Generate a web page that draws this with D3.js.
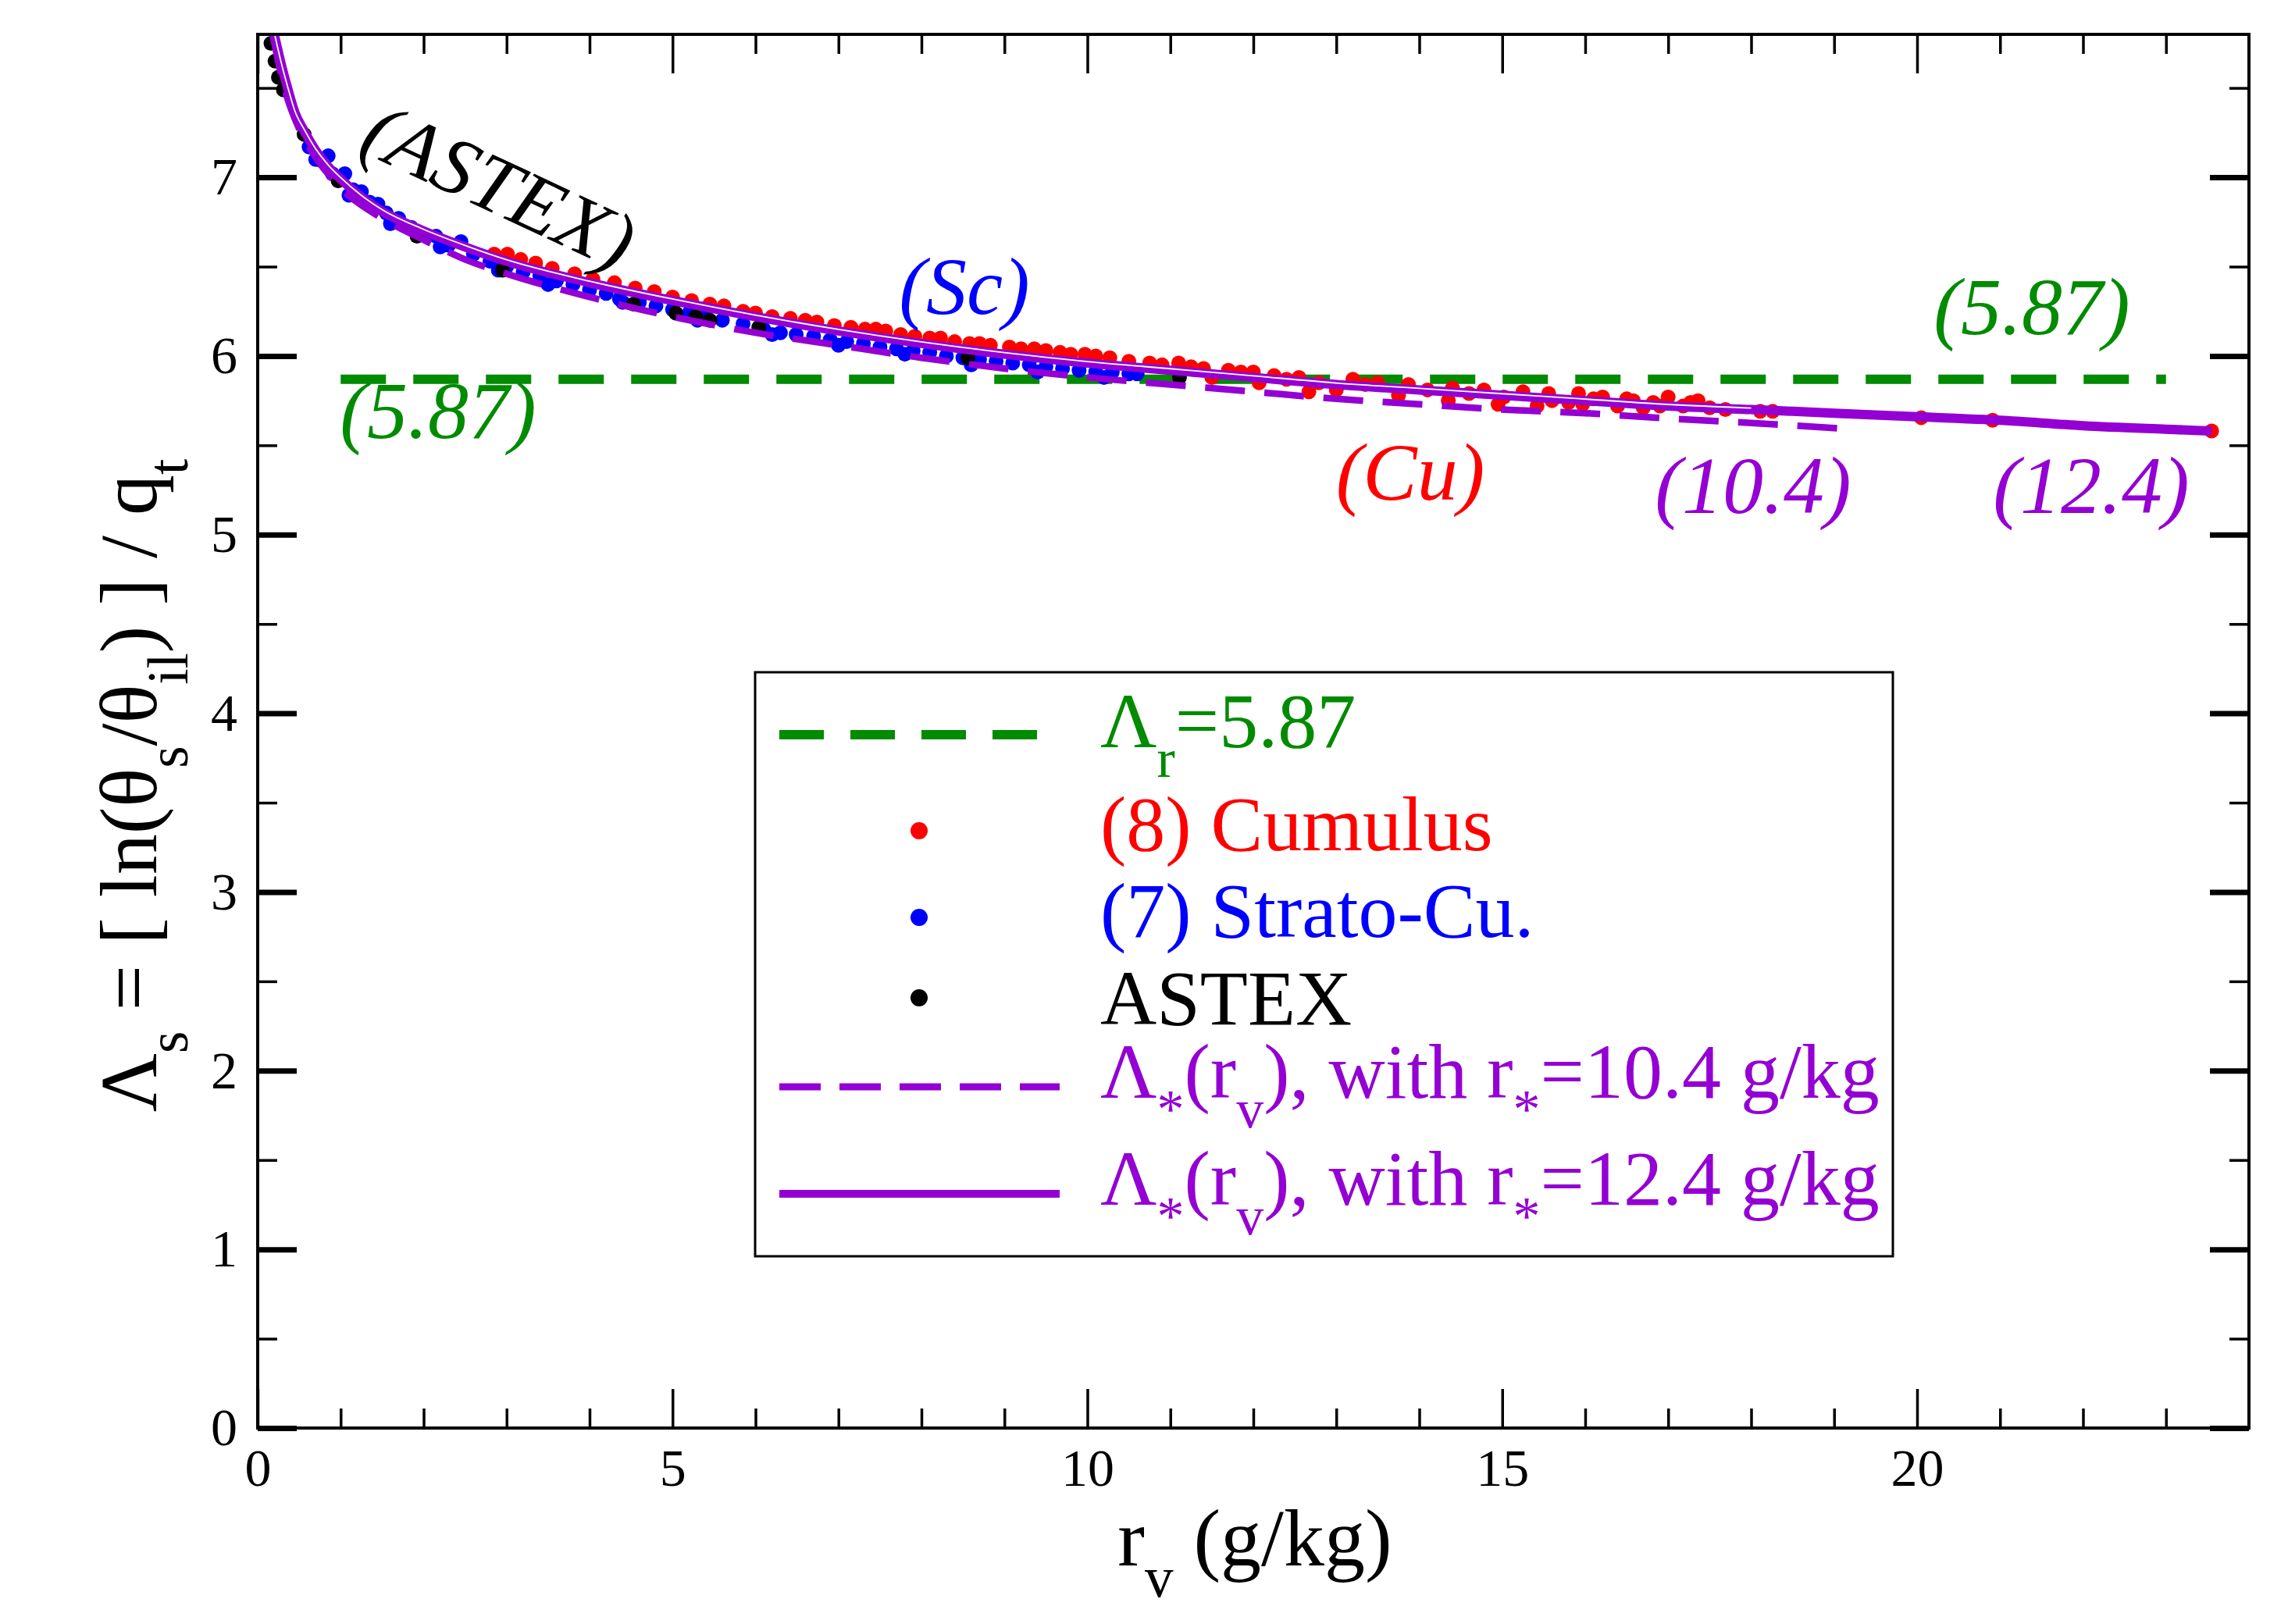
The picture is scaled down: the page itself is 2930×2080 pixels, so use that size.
<!DOCTYPE html>
<html lang="en">
<head>
  <meta charset="UTF-8">
  <title>Lambda_s versus r_v</title>
  <style>
    body { margin: 0; background: #fff; }
    svg { display: block; font-family: "Liberation Serif", "Times New Roman", serif; white-space: pre; }
    .tick text { font-size: 68px; fill: #000; font-family: "Liberation Serif", "Times New Roman", serif; }
  </style>
</head>
<body>
  <svg id="chart" width="2930" height="2080"></svg>

  <script src="https://d3js.org/d3.v7.min.js"></script>
  <script>
    // ---- values ----
    const xTicks = [0, 5, 10, 15, 20];
    const xMinorTicks = [1, 2, 3, 4, 6, 7, 8, 9, 11, 12, 13, 14, 16, 17, 18, 19, 21, 22, 23];
    const yTicks = [0, 1, 2, 3, 4, 5, 6, 7];
    const yMinorTicks = [0.5, 1.5, 2.5, 3.5, 4.5, 5.5, 6.5, 7.5];

    const lambdaR = 5.87;
    const lambdaRSpan = [1.0, 23.0];

    // Lambda_*(r_v) with r_* = 12.4 g/kg (solid)
    const lambdaStar124 = [
      [0.2, 7.80], [0.28, 7.64], [0.36, 7.50], [0.45, 7.36], [0.56, 7.26], [0.7, 7.15],
      [0.85, 7.06], [1.0, 6.99], [1.25, 6.89], [1.5, 6.81], [2.0, 6.70], [2.5, 6.61],
      [3.0, 6.53], [4.0, 6.41], [5.0, 6.31], [6.0, 6.22], [7.0, 6.14], [8.0, 6.07],
      [9.0, 6.01], [10.0, 5.96], [11.0, 5.92], [12.0, 5.88], [13.0, 5.84], [14.0, 5.81],
      [15.0, 5.78], [16.0, 5.75], [17.0, 5.72], [18.0, 5.70], [19.0, 5.68], [20.0, 5.66],
      [21.0, 5.64], [22.0, 5.61], [23.0, 5.59], [23.55, 5.58]
    ];

    // Lambda_*(r_v) with r_* = 10.4 g/kg (dashed)
    const lambdaStar104 = [
      [0.18, 7.80], [0.26, 7.62], [0.34, 7.47], [0.5, 7.27], [0.7, 7.11], [1.0, 6.94],
      [1.5, 6.77], [2.0, 6.65], [2.5, 6.54], [3.0, 6.46], [4.0, 6.33], [5.0, 6.22],
      [6.0, 6.13], [7.0, 6.06], [8.0, 5.99], [9.0, 5.93], [10.0, 5.88], [11.0, 5.84],
      [12.0, 5.80], [13.0, 5.76], [14.0, 5.73], [15.0, 5.70], [16.0, 5.68], [17.0, 5.65],
      [18.0, 5.625], [19.2, 5.59]
    ];

    // (8) Cumulus
    const cumulus = [
      [2.85, 6.57], [3.01, 6.57], [3.17, 6.54], [3.35, 6.52], [3.55, 6.49], [3.82, 6.46],
      [4.04, 6.43], [4.3, 6.41], [4.55, 6.38], [4.78, 6.36], [5.0, 6.33], [5.23, 6.31],
      [5.45, 6.29], [5.62, 6.28], [5.85, 6.25], [6.0, 6.24], [6.2, 6.22], [6.42, 6.21],
      [6.6, 6.20], [6.74, 6.19], [6.95, 6.17], [7.15, 6.16], [7.32, 6.15], [7.45, 6.15],
      [7.57, 6.14], [7.75, 6.12], [7.92, 6.11], [8.1, 6.10], [8.23, 6.10], [8.4, 6.08],
      [8.58, 6.07], [8.7, 6.07], [8.83, 6.06], [9.06, 6.05], [9.2, 6.04], [9.36, 6.04],
      [9.5, 6.03], [9.67, 6.02], [9.8, 6.01], [9.97, 6.01], [10.1, 6.00], [10.27, 5.99],
      [10.5, 5.97], [10.75, 5.96], [10.9, 5.95], [11.1, 5.96], [11.25, 5.94], [11.4, 5.93],
      [11.5, 5.88], [11.7, 5.92], [11.85, 5.91], [12.0, 5.91], [12.07, 5.85], [12.25, 5.89],
      [12.4, 5.87], [12.55, 5.88], [12.67, 5.80], [12.79, 5.85], [13.0, 5.81], [13.2, 5.87],
      [13.35, 5.84], [13.5, 5.85], [13.75, 5.78], [13.87, 5.84], [14.1, 5.81], [14.35, 5.75],
      [14.4, 5.82], [14.6, 5.79], [14.78, 5.81], [14.95, 5.73], [15.02, 5.77], [15.25, 5.80],
      [15.42, 5.72], [15.56, 5.79], [15.6, 5.75], [15.8, 5.74], [15.92, 5.79], [15.97, 5.73],
      [16.1, 5.76], [16.21, 5.77], [16.39, 5.72], [16.5, 5.76], [16.58, 5.75], [16.7, 5.71],
      [16.82, 5.74], [16.9, 5.72], [17.0, 5.77], [17.18, 5.72], [17.27, 5.74], [17.36, 5.75],
      [17.5, 5.71], [17.69, 5.70], [18.11, 5.69], [18.26, 5.69], [20.05, 5.655], [20.91, 5.64],
      [23.55, 5.58]
    ];

    // (7) Strato-Cu.
    const stratoCu = [
      [0.62, 7.17], [0.7, 7.10], [0.78, 7.09], [0.85, 7.12], [0.9, 7.02], [1.0, 6.99],
      [1.05, 7.02], [1.1, 6.90], [1.15, 6.93], [1.25, 6.92], [1.35, 6.86], [1.45, 6.85],
      [1.55, 6.80], [1.6, 6.74], [1.7, 6.77], [1.85, 6.72], [2.0, 6.68], [2.15, 6.67],
      [2.2, 6.61], [2.3, 6.62], [2.45, 6.64], [2.6, 6.57], [2.8, 6.53], [2.9, 6.48],
      [3.0, 6.50], [3.2, 6.47], [3.4, 6.45], [3.5, 6.40], [3.6, 6.42], [3.8, 6.40],
      [4.0, 6.37], [4.2, 6.35], [4.36, 6.32], [4.4, 6.30], [4.6, 6.30], [4.8, 6.28],
      [5.0, 6.26], [5.2, 6.24], [5.3, 6.20], [5.4, 6.22], [5.6, 6.20], [5.85, 6.18],
      [6.1, 6.15], [6.2, 6.12], [6.3, 6.13], [6.49, 6.12], [6.7, 6.11], [6.9, 6.09],
      [7.0, 6.06], [7.1, 6.08], [7.3, 6.07], [7.5, 6.05], [7.7, 6.04], [7.8, 6.01],
      [7.9, 6.03], [8.1, 6.02], [8.3, 6.00], [8.5, 5.99], [8.6, 5.95], [8.7, 5.98],
      [8.9, 5.97], [9.1, 5.96], [9.3, 5.95], [9.4, 5.91], [9.5, 5.94], [9.7, 5.93],
      [9.9, 5.92], [10.1, 5.91], [10.2, 5.88], [10.3, 5.91], [10.5, 5.90], [10.6, 5.90]
    ];

    // ASTEX
    const astex = [
      [0.16, 7.75], [0.21, 7.65], [0.25, 7.56], [0.31, 7.49], [0.56, 7.24], [0.97, 6.98],
      [1.92, 6.67], [2.95, 6.48], [4.53, 6.29], [5.04, 6.24], [5.28, 6.22], [5.45, 6.20],
      [6.04, 6.16], [8.56, 5.99], [11.11, 5.88]
    ];

    // ---- layout ----
    const green = "#008b00", red = "#ff0000", blue = "#0000ff", violet = "#9400d3";
    const svg = d3.select("#chart");
    const x = d3.scaleLinear().domain([0, 24]).range([330, 2880]);
    const y = d3.scaleLinear().domain([0, 7.8]).range([1829, 44]);

    svg.append("rect").attr("width", 2930).attr("height", 2080).attr("fill", "#fff");

    svg.append("defs").append("clipPath").attr("id", "plot")
      .append("rect")
      .attr("x", x(0)).attr("y", y(7.8))
      .attr("width", x(24) - x(0)).attr("height", y(0) - y(7.8));

    // rich text helper: strings are normal, [string] is a subscript
    function addRich(sel, parts, size) {
      const subSize = Math.round(size * 0.7), shift = Math.round(size * 0.38);
      let low = false;
      parts.forEach(p => {
        const isSub = Array.isArray(p);
        const ts = sel.append("tspan").text(isSub ? p[0] : p);
        if (isSub) {
          ts.attr("font-size", subSize);
          if (!low) ts.attr("dy", shift);
          low = true;
        } else {
          if (low) ts.attr("dy", -shift);
          low = false;
        }
      });
    }

    // ---- axes (ticks inward on all four sides) ----
    function styleAxis(g, w) {
      g.select(".domain").remove();
      g.selectAll(".tick line").attr("stroke", "#000").attr("stroke-width", w);
    }

    svg.append("g").attr("transform", `translate(0,${y(0)})`)
      .call(d3.axisBottom(x).tickValues(xTicks).tickSize(-50).tickPadding(26))
      .call(g => styleAxis(g, 3.5));
    svg.append("g").attr("transform", `translate(0,${y(0)})`)
      .call(d3.axisBottom(x).tickValues(xMinorTicks).tickSize(-25).tickFormat(""))
      .call(g => styleAxis(g, 3.5));
    svg.append("g").attr("transform", `translate(0,${y(7.8)})`)
      .call(d3.axisTop(x).tickValues(xTicks).tickSize(-50).tickFormat(""))
      .call(g => styleAxis(g, 3.5));
    svg.append("g").attr("transform", `translate(0,${y(7.8)})`)
      .call(d3.axisTop(x).tickValues(xMinorTicks).tickSize(-25).tickFormat(""))
      .call(g => styleAxis(g, 3.5));

    svg.append("g").attr("transform", `translate(${x(0)},0)`)
      .call(d3.axisLeft(y).tickValues(yTicks).tickSize(-50).tickPadding(26))
      .call(g => styleAxis(g, 7));
    svg.append("g").attr("transform", `translate(${x(0)},0)`)
      .call(d3.axisLeft(y).tickValues(yMinorTicks).tickSize(-25).tickFormat(""))
      .call(g => styleAxis(g, 3.5));
    svg.append("g").attr("transform", `translate(${x(24)},0)`)
      .call(d3.axisRight(y).tickValues(yTicks).tickSize(-50).tickFormat(""))
      .call(g => styleAxis(g, 7));
    svg.append("g").attr("transform", `translate(${x(24)},0)`)
      .call(d3.axisRight(y).tickValues(yMinorTicks).tickSize(-25).tickFormat(""))
      .call(g => styleAxis(g, 3.5));

    // ---- data layer ----
    const plot = svg.append("g").attr("clip-path", "url(#plot)");
    const line = d3.line().x(d => x(d[0])).y(d => y(d[1])).curve(d3.curveMonotoneX);

    plot.append("line")
      .attr("x1", x(lambdaRSpan[0])).attr("x2", x(lambdaRSpan[1]))
      .attr("y1", y(lambdaR)).attr("y2", y(lambdaR))
      .attr("stroke", green).attr("stroke-width", 12).attr("stroke-dasharray", "58,35");

    [[cumulus, red], [stratoCu, blue], [astex, "#000"]].forEach(([pts, col]) => {
      plot.append("g").selectAll("circle").data(pts).join("circle")
        .attr("cx", d => x(d[0])).attr("cy", d => y(d[1])).attr("r", 9.5).attr("fill", col);
    });

    plot.append("path").datum(lambdaStar104).attr("d", line)
      .attr("fill", "none").attr("stroke", violet).attr("stroke-width", 8.5)
      .attr("stroke-dasharray", "51,25");
    plot.append("path").datum(lambdaStar124).attr("d", line)
      .attr("fill", "none").attr("stroke", violet).attr("stroke-width", 12);
    plot.append("path").datum(lambdaStar124.filter(d => d[0] <= 18)).attr("d", line)
      .attr("transform", "translate(0,-2)")
      .attr("fill", "none").attr("stroke", "#fff").attr("stroke-width", 1.8);

    // frame
    svg.append("rect")
      .attr("x", x(0)).attr("y", y(7.8))
      .attr("width", x(24) - x(0)).attr("height", y(0) - y(7.8))
      .attr("fill", "none").attr("stroke", "#000").attr("stroke-width", 4);

    // ---- annotations ----
    const ann = svg.append("g").attr("font-style", "italic").attr("font-size", 104)
      .attr("text-anchor", "middle");
    ann.append("text").attr("transform", "translate(640,237) rotate(25)").attr("dy", "0.35em")
      .attr("fill", "#000").text("(ASTEX)");
    ann.append("text").attr("x", 1235).attr("y", 402).attr("fill", blue).text("(Sc)");
    ann.append("text").attr("x", 2602).attr("y", 428).attr("fill", green).text("(5.87)");
    ann.append("text").attr("x", 561).attr("y", 561).attr("fill", green).text("(5.87)");
    ann.append("text").attr("x", 1806).attr("y", 640).attr("fill", red).text("(Cu)");
    ann.append("text").attr("x", 2245).attr("y", 657).attr("fill", violet).text("(10.4)");
    ann.append("text").attr("x", 2678).attr("y", 657).attr("fill", violet).text("(12.4)");

    // ---- axis titles ----
    const xt = svg.append("text").attr("x", 1607).attr("y", 2005)
      .attr("text-anchor", "middle").attr("font-size", 104).attr("fill", "#000");
    addRich(xt, ["r", ["v"], " (g/kg)"], 104);

    const yt = svg.append("text").attr("transform", "translate(200,1006) rotate(-90)")
      .attr("text-anchor", "middle").attr("font-size", 104).attr("fill", "#000");
    addRich(yt, ["\u039B", ["s"], " = [ ln(\u03B8", ["s"], "/\u03B8", ["il"], ") ] / q", ["t"]], 104);

    // ---- legend ----
    const leg = svg.append("g");
    leg.append("rect").attr("x", 967).attr("y", 861).attr("width", 1457).attr("height", 748)
      .attr("fill", "#fff").attr("stroke", "#000").attr("stroke-width", 3);

    leg.append("line").attr("x1", 998).attr("x2", 1333).attr("y1", 941).attr("y2", 941)
      .attr("stroke", green).attr("stroke-width", 12).attr("stroke-dasharray", "57,34");
    [[1064, red], [1175, blue], [1278, "#000"]].forEach(([cy, col]) => {
      leg.append("circle").attr("cx", 1177).attr("cy", cy).attr("r", 11).attr("fill", col);
    });
    leg.append("line").attr("x1", 998).attr("x2", 1357).attr("y1", 1392).attr("y2", 1392)
      .attr("stroke", violet).attr("stroke-width", 9).attr("stroke-dasharray", "53,24");
    leg.append("line").attr("x1", 998).attr("x2", 1357).attr("y1", 1529).attr("y2", 1529)
      .attr("stroke", violet).attr("stroke-width", 10);

    const legRows = [
      [957, green, ["\u039B", ["r"], "=5.87"]],
      [1089, red, ["(8) Cumulus"]],
      [1200, blue, ["(7) Strato-Cu."]],
      [1312, "#000", ["ASTEX"]],
      [1406, violet, ["\u039B", ["*"], "(r", ["v"], "), with r", ["*"], "=10.4 g/kg"]],
      [1543, violet, ["\u039B", ["*"], "(r", ["v"], "), with r", ["*"], "=12.4 g/kg"]]
    ];
    legRows.forEach(([by, col, parts]) => {
      const t = leg.append("text").attr("x", 1409).attr("y", by)
        .attr("font-size", 100).attr("fill", col);
      addRich(t, parts, 100);
    });
  </script>
</body>
</html>
